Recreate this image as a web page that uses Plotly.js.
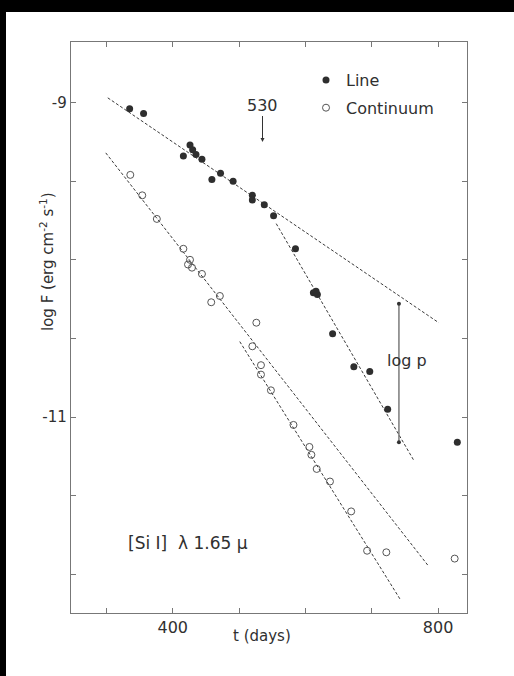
<!DOCTYPE html>
<html>
<head>
<meta charset="utf-8">
<script src="https://cdn.plot.ly/plotly-3.0.1.min.js"></script>
<style>html,body{margin:0;padding:0;background:#fff;}#chart{width:514px;height:676px;}</style>
</head>
<body>
<div id="chart"></div>
<script>
// [Si I] 1.65 micron line: filled = Line, open = Continuum
const tLine = [335, 356, 426, 430, 416, 435, 444, 472, 459, 491, 520, 520, 538, 552, 585, 612, 618, 616, 641, 673, 697, 724, 829];
const fLine = [-9.04, -9.07, -9.27, -9.30, -9.34, -9.33, -9.36, -9.45, -9.49, -9.50, -9.59, -9.62, -9.65, -9.72, -9.93, -10.21, -10.22, -10.20, -10.47, -10.68, -10.71, -10.95, -11.16];

const tCont = [336, 354, 376, 416, 426, 423, 429, 444, 471, 458, 526, 520, 533, 533, 548, 582, 606, 609, 617, 637, 669, 693, 722, 825];
const fCont = [-9.46, -9.59, -9.74, -9.93, -10.00, -10.03, -10.05, -10.09, -10.23, -10.27, -10.40, -10.55, -10.67, -10.73, -10.83, -11.05, -11.19, -11.24, -11.33, -11.41, -11.60, -11.85, -11.86, -11.90];

// dashed fits (end points)
const fitLineEarlyT = [302, 801];
const fitLineEarlyF = [-8.97, -10.40];
const fitLineLateT = [556, 764];
const fitLineLateF = [-9.77, -11.28];
const fitContEarlyT = [299, 786];
const fitContEarlyF = [-9.32, -11.95];
const fitContLateT = [501, 743];
const fitContLateF = [-10.52, -12.16];

// log p bar
const logpT = [741, 741];
const logpF = [-10.28, -11.16];

const xTicks = [300, 400, 500, 600, 700, 800];
const xTickText = ['', '400', '', '', '', '800'];
const yTicks = [-9, -9.5, -10, -10.5, -11, -11.5, -12];
const yTickText = ['-9', '', '', '', '-11', '', ''];

const FONT = '"DejaVu Sans", Verdana, sans-serif';
const INK = '#303030';
const dashStyle = {color: '#3a3a3a', width: 1, dash: '3px,2px'};

const traces = [
  {x: fitLineEarlyT, y: fitLineEarlyF, mode: 'lines', line: dashStyle, showlegend: false, hoverinfo: 'skip'},
  {x: fitLineLateT, y: fitLineLateF, mode: 'lines', line: dashStyle, showlegend: false, hoverinfo: 'skip'},
  {x: fitContEarlyT, y: fitContEarlyF, mode: 'lines', line: dashStyle, showlegend: false, hoverinfo: 'skip'},
  {x: fitContLateT, y: fitContLateF, mode: 'lines', line: dashStyle, showlegend: false, hoverinfo: 'skip'},
  {x: logpT, y: logpF, mode: 'lines+markers', line: {color: '#666', width: 1.3},
   marker: {size: 4, color: '#333'}, showlegend: false, hoverinfo: 'skip'},
  {x: tLine, y: fLine, mode: 'markers', name: 'Line', legendgroup: 'a',
   marker: {size: 7, color: '#2e2e2e'}},
  {x: tCont, y: fCont, mode: 'markers', name: 'Continuum', legendgroup: 'b',
   marker: {size: 7, symbol: 'circle-open', color: '#555', line: {width: 1, color: '#555'}}}
];

const px = v => (v - 71) / 396;
const py = v => (613 - v) / 571;

const layout = {
  width: 514, height: 676,
  margin: {l: 71, r: 47, t: 42, b: 63},
  paper_bgcolor: '#ffffff', plot_bgcolor: '#ffffff',
  font: {family: FONT, color: INK, size: 15},
  showlegend: true,
  legend: {x: px(306), y: py(63), xanchor: 'left', yanchor: 'top', bgcolor: 'rgba(0,0,0,0)',
           font: {size: 16, color: INK}, tracegroupgap: 4, itemwidth: 30},
  xaxis: {range: [246.6, 843.6], showgrid: false, zeroline: false, showline: true, linecolor: '#777', linewidth: 1.2,
          mirror: 'ticks', ticks: 'inside', ticklen: 5, tickcolor: '#777', tickvals: xTicks, ticktext: xTickText,
          tickfont: {size: 16, color: INK}},
  yaxis: {range: [-12.246, -8.615], showgrid: false, zeroline: false, showline: true, linecolor: '#777', linewidth: 1.2,
          mirror: 'ticks', ticks: 'inside', ticklen: 5, tickcolor: '#777', tickvals: yTicks, ticktext: yTickText,
          tickfont: {size: 15, color: INK}},
  annotations: [
    {x: 535.3, y: -9.251, xref: 'x', yref: 'y', text: '530', showarrow: true, ax: 0, ay: -37,
     arrowhead: 2, arrowsize: 0.8, arrowwidth: 1, arrowcolor: '#333', font: {size: 16, color: INK}},
    {x: 753.4, y: -10.638, xref: 'x', yref: 'y', text: 'log p', showarrow: false, font: {size: 16, color: INK}},
    {x: 423.3, y: -11.80, xref: 'x', yref: 'y', text: '[Si I]&nbsp;&nbsp;λ 1.65 μ', showarrow: false, font: {size: 17, color: INK}},
    {x: px(47), y: py(262), xref: 'paper', yref: 'paper', xanchor: 'center', yanchor: 'middle',
     text: 'log F (erg cm<sup>-2</sup> s<sup>-1</sup>)', textangle: -90, showarrow: false, font: {size: 15, color: INK}},
    {x: px(262), y: py(636), xref: 'paper', yref: 'paper', xanchor: 'center', yanchor: 'middle',
     text: 't (days)', showarrow: false, font: {size: 15, color: INK}}
  ],
  shapes: [
    {type: 'rect', xref: 'paper', yref: 'paper', x0: px(-5), x1: px(520), y0: py(12), y1: py(-5),
     fillcolor: '#000', line: {width: 0}, layer: 'above'},
    {type: 'rect', xref: 'paper', yref: 'paper', x0: px(-5), x1: px(6), y0: py(680), y1: py(-5),
     fillcolor: '#000', line: {width: 0}, layer: 'above'}
  ]
};

Plotly.newPlot('chart', traces, layout, {staticPlot: true, displayModeBar: false});
</script>
</body>
</html>
